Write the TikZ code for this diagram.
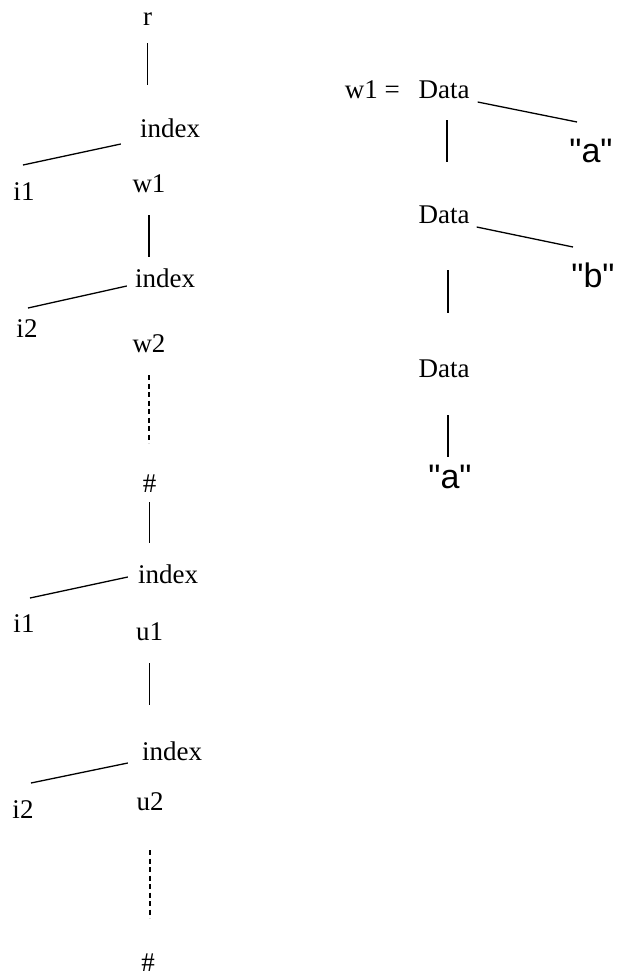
\documentclass[tikz,border=0pt]{standalone}
\usepackage{fontspec}
\setmainfont{Liberation Serif}
\newfontfamily\quotefont{Liberation Sans}

\begin{document}
\begin{tikzpicture}[x=1pt,y=-1pt,
        lbl/.style={anchor=base,inner sep=0pt,font=\fontsize{27}{32}\selectfont},
        str/.style={anchor=base,inner sep=0pt,font=\quotefont\fontsize{34}{40}\selectfont},
        link/.style={line width=1.3pt},
        dlink/.style={line width=1.3pt,dash pattern=on 5pt off 3.5pt}]
        \useasboundingbox (0,0) rectangle (617,978);

        % chain of index nodes
        \node[lbl] (r) at (147.5,25) {r};

        \node[lbl] (idx1) at (170,137) {index};
        \node[lbl] (i1a) at (24,200) {i1};
        \node[lbl] (w1) at (149,192) {w1};

        \node[lbl] (idx2) at (165,287) {index};
        \node[lbl] (i2a) at (27,337) {i2};
        \node[lbl] (w2) at (149,352) {w2};

        \node[lbl] (hash1) at (149.5,492) {\#};

        \node[lbl] (idx3) at (168,583) {index};
        \node[lbl] (i1b) at (24,632) {i1};
        \node[lbl] (u1) at (149.5,640) {u1};

        \node[lbl] (idx4) at (172,760) {index};
        \node[lbl] (i2b) at (23,818) {i2};
        \node[lbl] (u2) at (150,810) {u2};

        \node[lbl] (hash2) at (148,971) {\#};

        \draw[link,shorten <=18pt,shorten >=52pt] (r.base) -- (r.base |- idx1.base);
        \draw[link] ([shift={(-19,7)}]idx1.base west) -- ([shift={(-1,-35)}]i1a.base);
        \draw[link,shorten <=23pt,shorten >=30pt] (w1.base) -- (w1.base |- idx2.base);
        \draw[link] ([shift={(-8,-1)}]idx2.base west) -- ([shift={(1,-29)}]i2a.base);
        \draw[dlink,shorten <=23pt,shorten >=49pt] (w2.base) -- (w2.base |- hash1.base);
        \draw[link,shorten <=10pt,shorten >=40pt] (hash1.base) -- (hash1.base |- idx3.base);
        \draw[link] ([shift={(-10,-6)}]idx3.base west) -- ([shift={(6,-34)}]i1b.base);
        \draw[link,shorten <=23pt,shorten >=55pt] (u1.base) -- (u1.base |- idx4.base);
        \draw[link] ([shift={(-14,3)}]idx4.base west) -- ([shift={(8,-35)}]i2b.base);
        \draw[dlink,shorten <=40pt,shorten >=53pt] (u2.base) -- (u2.base |- hash2.base);

        % the value of w1
        \node[lbl,anchor=base east] (weq) at (400,98) {w1 =};
        \node[lbl] (d1) at (444,98) {Data};
        \node[str] (sa1) at (591,162) {"a"};
        \node[lbl] (d2) at (444,223) {Data};
        \node[str] (sb) at (593,287) {"b"};
        \node[lbl] (d3) at (444,377) {Data};
        \node[str] (sa2) at (450,488) {"a"};

        \draw[link] ([shift={(8,4)}]d1.base east) -- ([shift={(-14,-40)}]sa1.base);
        \draw[link,shorten <=22pt,shorten >=61pt] ([xshift=3pt]d1.base) -- ([xshift=3pt]d1.base |- d2.base);
        \draw[link] ([shift={(7,4)}]d2.base east) -- ([shift={(-20,-40)}]sb.base);
        \draw[link,shorten <=47pt,shorten >=64pt] ([xshift=4pt]d2.base) -- ([xshift=4pt]d2.base |- d3.base);
        \draw[link,shorten <=38pt,shorten >=31pt] ([xshift=4pt]d3.base) -- ([xshift=4pt]d3.base |- sa2.base);
    \end{tikzpicture}
\end{document}
